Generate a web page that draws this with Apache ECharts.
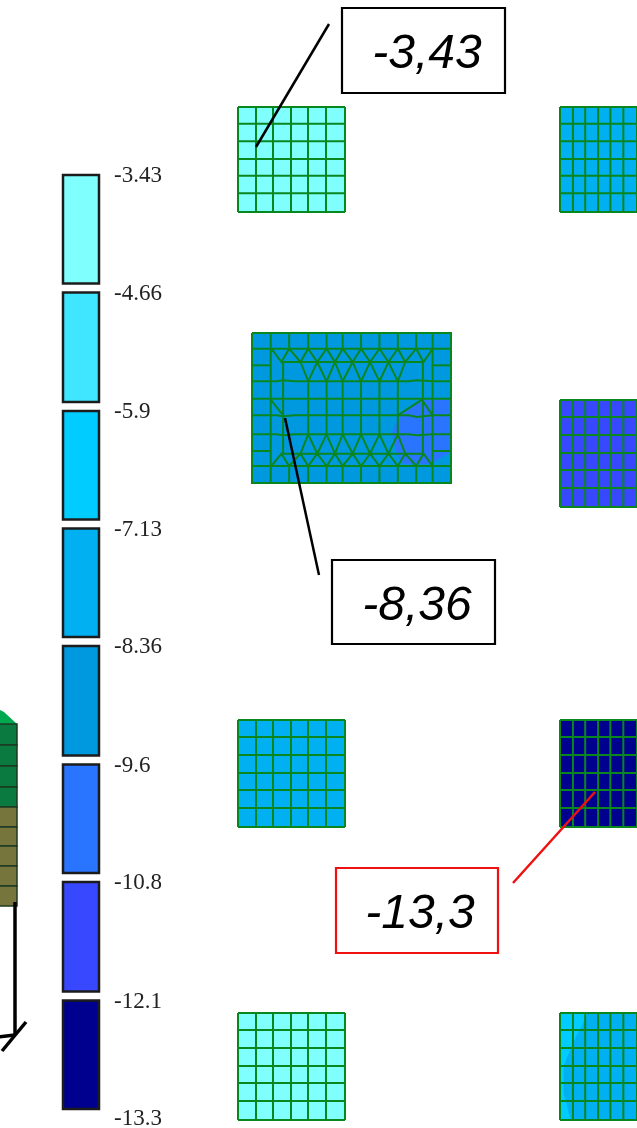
<!DOCTYPE html>
<html><head><meta charset="utf-8">
<style>html,body{margin:0;padding:0;background:#fff}#c{width:637px;height:1128px;filter:blur(0.4px)}</style>
<script src="https://cdn.jsdelivr.net/npm/echarts@6/dist/echarts.min.js"></script>
</head><body><div id="c"></div>
<script>
// ---------- data ----------
const scaleValues = [-3.43,-4.66,-5.9,-7.13,-8.36,-9.6,-10.83,-12.07,-13.3];
const bandColors = ['#80ffff','#40e5ff','#00ccff','#00b0f0','#0099e0','#2a75ff','#3848ff','#00008f'];
const panelValues = [-3.43,-7.6,-8.36,-11.5,-7.6,-13.3,-3.6,-7.6];
const calloutTexts = ['-3,43','-8,36','-13,3'];
const meshX = [0,18,35,53,70,88,107];
const meshY = [0,17,35,53,70,88,107];
const bigX = [67,123,178,235,290,338,393,448,503,558,607,662];
const bigY = [38,85,135,183,235,285,340,392,437,488];
const bigZigTop = [[125,85],[155,125],[178,85],[212,125],[235,85],[262,125],[290,85],[315,125],[338,85],[368,125],[393,85],[420,125],[448,85],[475,125],[503,85],[525,125],[558,85],[580,125],[607,85]];
const bigZigMid = [[212,125],[235,183],[262,125],[290,183],[315,125],[338,183],[368,125],[393,183],[420,125],[448,183],[475,125],[503,183],[525,125]];
const bigZigLow = [[212,400],[235,342],[262,400],[290,342],[315,400],[338,342],[368,400],[393,342],[420,400],[448,342],[475,400],[503,342],[525,400]];
const bigZigBot = [[125,437],[155,400],[178,437],[212,400],[235,437],[262,400],[290,437],[315,400],[338,437],[368,400],[393,437],[420,400],[448,437],[475,400],[503,437],[525,400],[558,437],[580,400],[607,437]];
const bigContour = [[662,238],[575,238],[510,280],[485,340],[500,400],[520,432],[600,432],[662,395]];
const bigContourValue = -9.7;
const edgeContour = [[0,0],[37,0],[37,3],[18,30],[5,53],[5,80],[15,107],[0,107]];
const edgeContourValue = -6.5;
const stubRows = [724,745,766,787,807,827,846,866,886,906];
const stubColors = ['#0a7a40','#0a7a40','#0a7a40','#0a7a40','#76753c','#76753c','#76753c','#76753c','#76753c'];

// ---------- layout ----------
const MESH = '#0a861f';
const panels = [
 {l:238,t:107,w:107,h:105},{l:560,t:107,w:107,h:105},
 {l:252,t:333,w:199,h:150,big:true},{l:560,t:400,w:107,h:107},
 {l:238,t:720,w:107,h:107},{l:560,t:720,w:107,h:107},
 {l:238,t:1013,w:107,h:107},{l:560,t:1013,w:107,h:107,edge:true}];
const callouts = [
 {box:[342,8,163,85],text:[427,55],line:[[329,24],[256,147]],color:'#000'},
 {box:[332,560,163,84],text:[417,607],line:[[285,418],[319,575]],color:'#000'},
 {box:[336,868,162,85],text:[420,915],line:[[513,883],[595,792]],color:'#ee1111'}];

function colorOf(v){
  for(let i=0;i<bandColors.length;i++) if(v>scaleValues[i+1]) return bandColors[i];
  return bandColors[bandColors.length-1];
}
const grids=[],xAxes=[],yAxes=[],series=[];
function hiddenAxis(g,min,max,inv){return {gridIndex:g,type:'value',min,max,inverse:!!inv,show:false,scale:false,splitLine:{show:false}};}

function bigSegments(){
  const s=[];
  const X=bigX,Y=bigY,x0=X[0],x1=X[11],y0=Y[0],y1=Y[9];
  s.push([[x0,y0],[x1,y0],[x1,y1],[x0,y1],[x0,y0]]);
  [85,437].forEach(y=>s.push([[x0,y],[x1,y]]));
  s.push([[x0,135],[123,135]]);s.push([[607,135],[x1,135]]);
  s.push([[160,125],[578,125]]);
  s.push([[x0,183],[140,183],[160,180],[195,183],[535,183],[560,180],[607,183],[x1,183]]);
  s.push([[x0,235],[x1,235]]);
  s.push([[x0,285],[140,285],[160,288],[195,285],[535,285],[560,290],[607,285],[x1,285]]);
  s.push([[x0,342],[140,342],[160,345],[195,342],[535,342],[560,345],[607,342],[x1,342]]);
  s.push([[x0,392],[123,392]]);s.push([[607,392],[x1,392]]);
  s.push([[160,400],[578,400]]);
  X.slice(1,11).forEach(x=>{s.push([[x,y0],[x,85]]);s.push([[x,437],[x,y1]]);});
  [123,607].forEach(x=>s.push([[x,85],[x,437]]));
  [160,578].forEach(x=>s.push([[x,125],[x,400]]));
  [235,290,338,393,448,503].forEach(x=>s.push([[x,183],[x,342]]));
  s.push([[123,238],[160,285]]);s.push([[503,285],[575,238],[607,285]]);
  s.push(bigZigTop,bigZigMid,bigZigLow,bigZigBot);
  return s;
}
function gridSegments(xs,ys){
  const s=[];
  xs.forEach(x=>s.push([[x,ys[0]],[x,ys[ys.length-1]]]));
  ys.forEach(y=>s.push([[xs[0],y],[xs[xs.length-1],y]]));
  return s;
}
panels.forEach((p,i)=>{
  const idx=grids.length;
  grids.push({left:p.l,top:p.t,width:p.w,height:p.h,containLabel:false,show:false});
  const xs=p.big?bigX:meshX, ys=p.big?bigY:meshY;
  xAxes.push(hiddenAxis(idx,xs[0],xs[xs.length-1]));
  yAxes.push(hiddenAxis(idx,ys[0],ys[ys.length-1],true));
  const base={type:'custom',coordinateSystem:'cartesian2d',xAxisIndex:idx,yAxisIndex:idx,clip:false,silent:true,animation:false};
  const v=panelValues[i];
  series.push({...base,data:[[xs[0],ys[0],xs[xs.length-1],ys[ys.length-1],v]],encode:{x:[0,2],y:[1,3]},
    renderItem:(params,api)=>{
      const a=api.coord([api.value(0),api.value(1)]),b=api.coord([api.value(2),api.value(3)]);
      return {type:'rect',shape:{x:a[0],y:a[1],width:b[0]-a[0],height:b[1]-a[1]},style:{fill:colorOf(api.value(4))}};
    }});
  const contour=p.big?bigContour:(p.edge?edgeContour:null);
  if(contour){
    const cv=p.big?bigContourValue:edgeContourValue;
    series.push({...base,data:[[xs[0],ys[0]]],renderItem:(params,api)=>({type:'polygon',shape:{points:contour.map(q=>api.coord(q))},style:{fill:colorOf(cv)}})});
  }
  const segs=p.big?bigSegments():gridSegments(xs,ys);
  series.push({...base,data:segs.map((s,j)=>[j,ys[0]]),renderItem:(params,api)=>{
    const s=segs[api.value(0)];
    return {type:'polyline',shape:{points:s.map(q=>api.coord(q))},style:{stroke:MESH,lineWidth:2,fill:null}};
  }});
});

// colour scale
const sIdx=grids.length;
grids.push({left:63,top:175,width:36,height:943,show:false,outerBoundsMode:'none'});
xAxes.push(hiddenAxis(sIdx,0,1));
yAxes.push({gridIndex:sIdx,type:'value',min:scaleValues[8],max:scaleValues[0],position:'right',axisLine:{show:false},axisTick:{show:false},splitLine:{show:false},
  axisLabel:{show:true,customValues:scaleValues,formatter:v=>'{a|'+String(parseFloat(v.toPrecision(3)))+'}',margin:15,align:'left',
    rich:{a:{color:'#222',fontFamily:'Liberation Serif',fontSize:23,padding:[2,0,0,0]}},showMinLabel:true,showMaxLabel:true,hideOverlap:false}});
series.push({type:'custom',coordinateSystem:'cartesian2d',xAxisIndex:sIdx,yAxisIndex:sIdx,silent:true,animation:false,clip:false,
  data:scaleValues.slice(0,8).map((v,i)=>[i,v,scaleValues[i+1]]),encode:{y:[1,2]},
  renderItem:(params,api)=>{
    const a=api.coord([0,api.value(1)]),b=api.coord([1,api.value(2)]);
    return {type:'rect',shape:{x:a[0],y:a[1],width:b[0]-a[0],height:b[1]-a[1]-9},
      style:{fill:bandColors[api.value(0)],stroke:'#1c1c1c',lineWidth:2.5}};
  }});

// page-space overlay
const oIdx=grids.length;
grids.push({left:0,top:0,width:637,height:1128,show:false});
xAxes.push(hiddenAxis(oIdx,0,637));
yAxes.push(hiddenAxis(oIdx,0,1128,true));
const oBase={type:'custom',coordinateSystem:'cartesian2d',xAxisIndex:oIdx,yAxisIndex:oIdx,silent:true,animation:false,clip:true};
series.push({...oBase,data:[[0,710]],renderItem:(params,api)=>({type:'polygon',
  shape:{points:[[0,710],[4,712],[17,724],[0,724]].map(q=>api.coord(q))},style:{fill:'#00a850'}})});
series.push({...oBase,data:stubColors.map((c,i)=>[i,stubRows[i]]),renderItem:(params,api)=>{
  const i=api.value(0),a=api.coord([-3,stubRows[i]]),b=api.coord([17,stubRows[i+1]]);
  return {type:'rect',shape:{x:a[0],y:a[1],width:b[0]-a[0],height:b[1]-a[1]},style:{fill:stubColors[i],stroke:'#1e3a22',lineWidth:1.5}};
}});
const support=[[[15,902],[15,1035]],[[-2,1037],[15,1035]],[[2,1051],[26,1022]]];
series.push({...oBase,data:support.map((s,i)=>[i,900]),renderItem:(params,api)=>({type:'polyline',
  shape:{points:support[api.value(0)].map(q=>api.coord(q))},style:{stroke:'#000',lineWidth:3.5,fill:null}})});
series.push({...oBase,z:10,data:callouts.map((c,i)=>[i,0]),renderItem:(params,api)=>{
  const i=api.value(0),c=callouts[i],a=api.coord([c.box[0],c.box[1]]),b=api.coord([c.box[0]+c.box[2],c.box[1]+c.box[3]]),t=api.coord(c.text);
  return {type:'group',children:[
    {type:'polyline',shape:{points:c.line.map(q=>api.coord(q))},style:{stroke:c.color,lineWidth:2.5,fill:null}},
    {type:'rect',shape:{x:a[0],y:a[1],width:b[0]-a[0],height:b[1]-a[1]},style:{fill:'#fff',stroke:c.color,lineWidth:2.2}},
    {type:'text',style:{x:t[0],y:t[1],text:calloutTexts[i],fill:'#000',fontFamily:'Liberation Sans',fontStyle:'italic',fontSize:48,align:'center',verticalAlign:'middle'}}
  ]};
}});

const chart=echarts.init(document.getElementById('c'),null,{renderer:'canvas'});
chart.setOption({animation:false,backgroundColor:'#fff',grid:grids,xAxis:xAxes,yAxis:yAxes,series});
</script></body></html>
